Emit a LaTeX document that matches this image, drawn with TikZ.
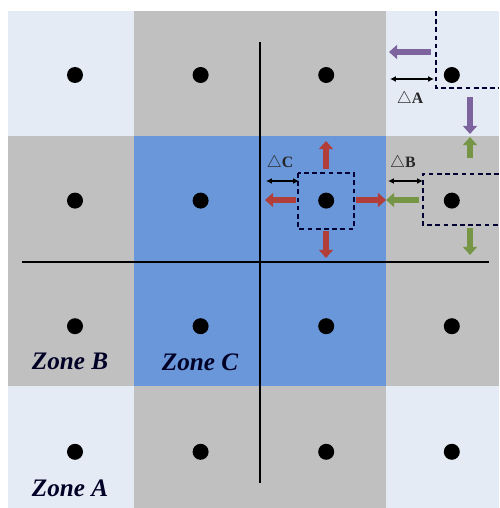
\documentclass[tikz,border=0pt]{standalone}
\usepackage{fontspec}
\setmainfont{Liberation Serif}
\usetikzlibrary{arrows.meta}

\definecolor{zoneAcol}{RGB}{229,235,245}
\definecolor{zoneBcol}{RGB}{192,192,192}
\definecolor{zoneCcol}{RGB}{106,151,217}
\definecolor{movepurple}{RGB}{125,100,158}
\definecolor{movered}{RGB}{178,62,58}
\definecolor{movegreen}{RGB}{118,150,70}

\tikzset{
  dot/.style={circle, fill=black, inner sep=0pt, minimum size=0.48cm},
  axis/.style={line width=1.6pt},
  region/.style={dashed, line width=1.2pt, dash pattern=on 4pt off 3pt, color=black!80!blue},
  move/.style={line width=5pt, -{Triangle[length=7pt,width=12pt]}},
  gap/.style={line width=1.4pt, {Latex[length=5pt,width=5pt]}-{Latex[length=5pt,width=5pt]}},
  zonelabel/.style={font=\fontsize{21.5}{24}\selectfont\bfseries\itshape, text=black!85!blue},
  gaplabel/.style={font=\fontsize{13.5}{15}\selectfont\bfseries, text=black!85},
}

\begin{document}
\begin{tikzpicture}[x=0.03cm, y=-0.03cm]
  \useasboundingbox (0,0) rectangle (499,508);

  % cells
  \fill[zoneBcol] (8,11) rectangle (499,508);
  \fill[zoneAcol] (8,11) rectangle (134,136);
  \fill[zoneAcol] (386,11) rectangle (499,136);
  \fill[zoneAcol] (8,386) rectangle (134,508);
  \fill[zoneAcol] (386,386) rectangle (499,508);
  \fill[zoneCcol] (134,136) rectangle (386,386);

  % dots
  \foreach \r in {1,...,4}
    \foreach \c in {1,...,4}
      \node[dot] (d\r\c) at ({75+125.6*(\c-1)}, {75+125.6*(\r-1)}) {};

  % axes
  \coordinate (vtop) at (260,42);
  \coordinate (vbot) at (260,483);
  \coordinate (hleft) at (22,262);
  \coordinate (hright) at (489,262);
  \draw[axis] (vtop) -- (vbot);
  \draw[axis] (hleft) -- (hright);

  % dashed regions
  \coordinate (cNW) at (298,173);
  \coordinate (cSE) at (354,229);
  \draw[region] (cNW) rectangle (cSE);
  \coordinate (bNE) at (499,174);
  \coordinate (bNW) at (423,174);
  \coordinate (bSW) at (423,225);
  \coordinate (bSE) at (499,225);
  \draw[region] (bNE) -- (bNW) -- (bSW) -- (bSE);
  \coordinate (aN) at (436,11);
  \coordinate (aC) at (436,88);
  \coordinate (aE) at (499,88);
  \draw[region] (aN) -- (aC) -- (aE);

  % zone A moves
  \coordinate (pa1) at (431,52);  \coordinate (pa2) at (389,52);
  \coordinate (pb1) at (470,97);  \coordinate (pb2) at (470,134);
  \draw[move, movepurple] (pa1) -- (pa2);
  \draw[move, movepurple] (pb1) -- (pb2);
  \coordinate (ga1) at (390,79);  \coordinate (ga2) at (434,79);
  \draw[gap] (ga1) -- (ga2);
  \node[gaplabel] (lA) at (410,99) {$\triangle$A};

  % zone B moves
  \coordinate (g1) at (470,158);  \coordinate (g2) at (470,137);
  \coordinate (g3) at (419,200);  \coordinate (g4) at (386,200);
  \coordinate (g5) at (470,228);  \coordinate (g6) at (470,255);
  \draw[move, movegreen] (g1) -- (g2);
  \draw[move, movegreen] (g3) -- (g4);
  \draw[move, movegreen] (g5) -- (g6);
  \coordinate (gb1) at (388,181);  \coordinate (gb2) at (423,181);
  \draw[gap] (gb1) -- (gb2);
  \node[gaplabel] (lB) at (403,163) {$\triangle$B};

  % zone C moves
  \coordinate (r1) at (326,169);  \coordinate (r2) at (326,141);
  \coordinate (r3) at (326,231);  \coordinate (r4) at (326,258);
  \coordinate (r5) at (296,200);  \coordinate (r6) at (265,200);
  \coordinate (r7) at (356,200);  \coordinate (r8) at (386,200);
  \draw[move, movered] (r1) -- (r2);
  \draw[move, movered] (r3) -- (r4);
  \draw[move, movered] (r5) -- (r6);
  \draw[move, movered] (r7) -- (r8);
  \coordinate (gc1) at (266,181);  \coordinate (gc2) at (299,181);
  \draw[gap] (gc1) -- (gc2);
  \node[gaplabel] (lC) at (280,163) {$\triangle$C};

  % labels
  \node[zonelabel] (zB) at (70,361) {Zone B};
  \node[zonelabel] (zC) at (200,362) {Zone C};
  \node[zonelabel] (zA) at (70,488) {Zone A};
\end{tikzpicture}
\end{document}
